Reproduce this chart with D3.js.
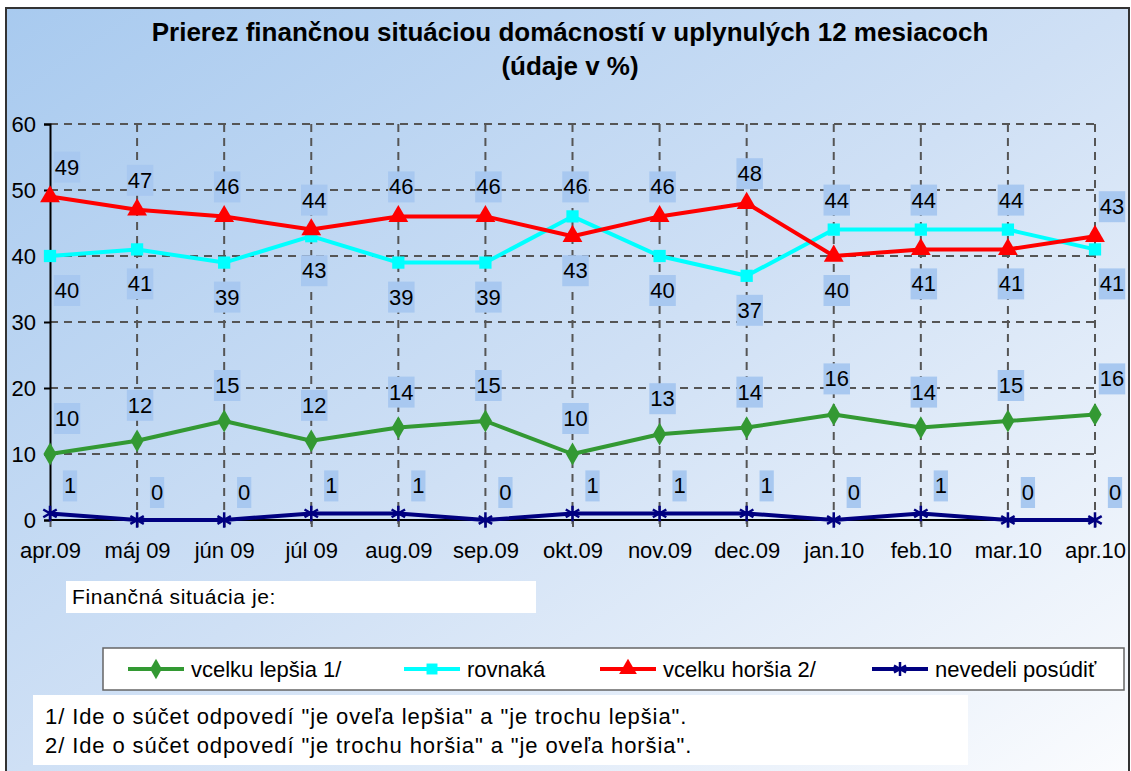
<!DOCTYPE html>
<html>
<head>
<meta charset="utf-8">
<script src="https://d3js.org/d3.v7.min.js"></script>
<style>
  body { margin: 0; background: #fff; }
  svg text { font-family: "Liberation Sans", Arial, sans-serif; fill: #000; }
</style>
</head>
<body>
<svg id="chart" width="1131" height="771"></svg>
<script>
var months = ["apr.09", "máj 09", "jún 09", "júl 09", "aug.09", "sep.09", "okt.09", "nov.09", "dec.09", "jan.10", "feb.10", "mar.10", "apr.10"];
var better = [10, 12, 15, 12, 14, 15, 10, 13, 14, 16, 14, 15, 16];
var same = [40, 41, 39, 43, 39, 39, 46, 40, 37, 44, 44, 44, 41];
var worse = [49, 47, 46, 44, 46, 46, 43, 46, 48, 40, 41, 41, 43];
var dontKnow = [1, 0, 0, 1, 1, 0, 1, 1, 1, 0, 1, 0, 0];
var yTicks = [0, 10, 20, 30, 40, 50, 60];

var seriesNames = ["vcelku lepšia 1/", "rovnaká", "vcelku horšia 2/", "nevedeli posúdiť"];
var titleLines = ["Prierez finančnou situáciou domácností v uplynulých 12 mesiacoch", "(údaje v %)"];
var subLabel = "Finančná situácia je:";
var notes = ["1/ Ide o súčet odpovedí \"je oveľa lepšia\" a \"je trochu lepšia\".",
             "2/ Ide o súčet odpovedí \"je trochu horšia\" a \"je oveľa horšia\"."];

var svg = d3.select("#chart");

// background gradient
var defs = svg.append("defs");
var grad = defs.append("linearGradient").attr("id", "bg")
  .attr("x1", 0).attr("y1", 0).attr("x2", 1).attr("y2", 1);
grad.append("stop").attr("offset", 0).attr("stop-color", "#a8caef");
grad.append("stop").attr("offset", 0.5).attr("stop-color", "#cfe0f5");
grad.append("stop").attr("offset", 1).attr("stop-color", "#fbfcfe");

svg.append("rect").attr("x", 6).attr("y", 8).attr("width", 1123).attr("height", 775)
  .attr("fill", "url(#bg)").attr("stroke", "#333").attr("stroke-width", 2);

// title
svg.selectAll(".title").data(titleLines).enter().append("text")
  .attr("x", 570).attr("y", function(d, i) { return 41 + i * 34; })
  .attr("text-anchor", "middle").style("font-size", "26px").style("font-weight", "bold")
  .text(function(d) { return d; });

var x = d3.scalePoint().domain(months).range([50, 1095]);
var y = d3.scaleLinear().domain([0, 60]).range([520, 124]);

var grid = svg.append("g");
// horizontal gridlines
grid.selectAll(".hg").data(yTicks.filter(function(d) { return d > 0; })).enter().append("line")
  .attr("x1", 50).attr("x2", 1095)
  .attr("y1", function(d) { return y(d); }).attr("y2", function(d) { return y(d); })
  .attr("stroke", "#555").attr("stroke-width", 2).attr("stroke-dasharray", "8,6");
// vertical gridlines
grid.selectAll(".vg").data(months.slice(1)).enter().append("line")
  .attr("x1", function(d) { return x(d); }).attr("x2", function(d) { return x(d); })
  .attr("y1", 124).attr("y2", 527)
  .attr("stroke", "#555").attr("stroke-width", 2).attr("stroke-dasharray", "8,6");

// axes
var yAxis = d3.axisLeft(y).tickValues(yTicks).tickSize(6).tickPadding(8);
var gy = svg.append("g").attr("transform", "translate(50,0)").call(yAxis);
gy.select(".domain").attr("stroke", "#000").attr("stroke-width", 2);
gy.selectAll(".tick line").attr("stroke", "#000").attr("stroke-width", 2);
gy.selectAll(".tick text").style("font-size", "22px").style("font-family", "Liberation Sans, Arial, sans-serif").attr("fill", "#000");

var xAxis = d3.axisBottom(x).tickSize(7).tickPadding(15);
var gx = svg.append("g").attr("transform", "translate(0,520)").call(xAxis);
gx.select(".domain").attr("d", "M50,0H1095").attr("stroke", "#000").attr("stroke-width", 2);
gx.selectAll(".tick line").attr("stroke", "#555").attr("stroke-width", 2);
gx.selectAll(".tick text").style("font-size", "22px").style("font-family", "Liberation Sans, Arial, sans-serif").attr("fill", "#000");

var series = [
  { name: seriesNames[0], values: better, color: "#339933", symbol: d3.symbolDiamond, size: 150 },
  { name: seriesNames[1], values: same, color: "#00ffff", symbol: d3.symbolSquare, size: 150 },
  { name: seriesNames[2], values: worse, color: "#ff0000", symbol: d3.symbolTriangle, size: 170 },
  { name: seriesNames[3], values: dontKnow, color: "#000080", symbol: d3.symbolAsterisk, size: 170 }
];

var line = d3.line()
  .x(function(d, i) { return x(months[i]); })
  .y(function(d) { return y(d); });

var plot = svg.append("g");
series.forEach(function(s) {
  plot.append("path").datum(s.values).attr("d", line)
    .attr("fill", "none").attr("stroke", s.color).attr("stroke-width", 4).attr("stroke-linejoin", "round");
  var stroked = s.symbol === d3.symbolAsterisk;
  plot.selectAll(null).data(s.values).enter().append("path")
    .attr("d", d3.symbol().type(s.symbol).size(s.size))
    .attr("transform", function(d, i) { return "translate(" + x(months[i]) + "," + y(d) + ")"; })
    .attr("fill", stroked ? "none" : s.color)
    .attr("stroke", stroked ? s.color : "none").attr("stroke-width", 2.5);
});

// data labels
var labels = svg.append("g");
function addLabel(cx, cy, val) {
  var g = labels.append("g");
  var r = g.append("rect").attr("fill", "#a8c8f0");
  var t = g.append("text").attr("x", cx).attr("y", cy + 8).attr("text-anchor", "middle")
    .style("font-size", "22px").text(val);
  var w = t.node().getComputedTextLength() + 2;
  r.attr("x", cx - w / 2).attr("y", cy - 15).attr("width", w).attr("height", 31);
}
var last = months.length - 1;
months.forEach(function(m, i) {
  var px = x(m);
  var dx = (i === 0 || i === last) ? 17 : 3;
  var hi = Math.max(worse[i], same[i]), lo = Math.min(worse[i], same[i]);
  addLabel(px + dx, y(hi) - 30, hi);
  addLabel(px + dx, y(lo) + 34, lo);
  addLabel(px + dx, y(better[i]) - 36, better[i]);
  addLabel(px + 20, y(dontKnow[i]) - 28, dontKnow[i]);
});

// "Finančná situácia je:" box
svg.append("rect").attr("x", 66).attr("y", 581).attr("width", 470).attr("height", 32).attr("fill", "#fff");
svg.append("text").attr("x", 72).attr("y", 604).style("font-size", "21px").style("letter-spacing", "0.6px").text(subLabel);

// legend
var legend = svg.append("g");
legend.append("rect").attr("x", 103).attr("y", 648).attr("width", 1021).attr("height", 42)
  .attr("fill", "#fff").attr("stroke", "#666").attr("stroke-width", 1.5);
var legX = [128, 404, 600, 872];
series.forEach(function(s, i) {
  var g = legend.append("g").attr("transform", "translate(" + legX[i] + ",669)");
  g.append("line").attr("x1", 0).attr("x2", 56).attr("stroke", s.color).attr("stroke-width", 4);
  var stroked = s.symbol === d3.symbolAsterisk;
  g.append("path").attr("d", d3.symbol().type(s.symbol).size(s.size * 0.8))
    .attr("transform", "translate(28,0)")
    .attr("fill", stroked ? "none" : s.color)
    .attr("stroke", stroked ? s.color : "none").attr("stroke-width", 2.5);
  g.append("text").attr("x", 63).attr("y", 8).style("font-size", "22px").text(s.name);
});

// footnotes
svg.append("rect").attr("x", 33).attr("y", 695).attr("width", 935).attr("height", 70).attr("fill", "#fff");
svg.selectAll(".note").data(notes).enter().append("text")
  .attr("x", 45).attr("y", function(d, i) { return 724 + i * 29; })
  .style("font-size", "22px").style("letter-spacing", "0.9px").text(function(d) { return d; });
</script>
</body>
</html>
